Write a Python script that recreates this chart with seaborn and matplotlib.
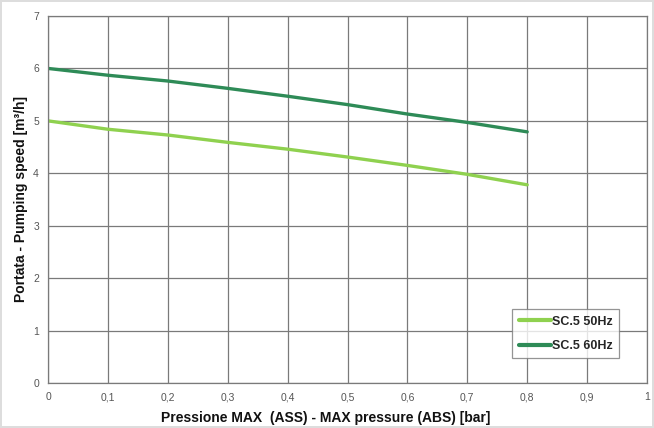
import matplotlib
matplotlib.use("Agg")
import matplotlib.pyplot as plt
import numpy as np
import pandas as pd
import seaborn as sns

# data
pressure = [0.0, 0.1, 0.2, 0.3, 0.4, 0.5, 0.6, 0.7, 0.8]
speed_50hz = [5.0, 4.84, 4.73, 4.59, 4.46, 4.31, 4.15, 3.98, 3.78]
speed_60hz = [6.0, 5.87, 5.76, 5.62, 5.47, 5.31, 5.13, 4.97, 4.79]
series_names = ["SC.5 50Hz", "SC.5 60Hz"]
series_colors = ["#8fd14f", "#2e8b57"]
x_ticks = [0, 0.1, 0.2, 0.3, 0.4, 0.5, 0.6, 0.7, 0.8, 0.9, 1.0]
y_ticks = [0, 1, 2, 3, 4, 5, 6, 7]

df = pd.DataFrame({
    "pressure": pressure * 2,
    "speed": speed_50hz + speed_60hz,
    "series": [series_names[0]] * len(pressure) + [series_names[1]] * len(pressure),
})

sns.set_theme(style="white")
plt.rcParams['font.family'] = ['Liberation Sans', 'DejaVu Sans']

fig = plt.figure(figsize=(6.54, 4.28), dpi=100)
ax = fig.add_axes([48 / 654, 1 - 383 / 428, 599 / 654, 367 / 428])

sns.lineplot(data=df, x="pressure", y="speed", hue="series",
             palette=dict(zip(series_names, series_colors)),
             linewidth=2.4, ax=ax)

ax.set_xlim(0, 1)
ax.set_ylim(0, 7)
ax.set_xticks(x_ticks)
ax.set_xticklabels([("%g" % t).replace(".", ",") for t in x_ticks])
ax.set_yticks(y_ticks)
ax.tick_params(axis="both", labelsize=7.5, colors="#555555", length=3, width=0.8)
ax.tick_params(axis="both", color="#777777")
ax.grid(True, color="#7a7a7a", linewidth=0.9)
for s in ax.spines.values():
    s.set_color("#7a7a7a")
    s.set_linewidth(0.9)

ax.set_xlabel("Pressione MAX  (ASS) - MAX pressure (ABS) [bar]",
              fontsize=10, fontweight="bold", color="#111111")
ax.set_ylabel("Portata - Pumping speed [m³/h]",
              fontsize=10, fontweight="bold", color="#111111")
ax.xaxis.set_label_coords(0.463, -0.077)
ax.yaxis.set_label_coords(-0.033, 0.5)

leg = ax.legend(loc="lower left", bbox_to_anchor=(458 / 599, 0.05),
                frameon=True, fancybox=False,
                handlelength=2.6, handletextpad=0.1, borderpad=0.5,
                labelspacing=1.0, prop={"weight": "bold", "size": 9})
leg.get_frame().set_edgecolor("#7a7a7a")
leg.get_frame().set_linewidth(0.9)
for line in leg.get_lines():
    line.set_linewidth(3)

fig.patch.set_edgecolor("#dddddd")
fig.patch.set_linewidth(1.5)

fig.savefig("out.png", dpi=100)
